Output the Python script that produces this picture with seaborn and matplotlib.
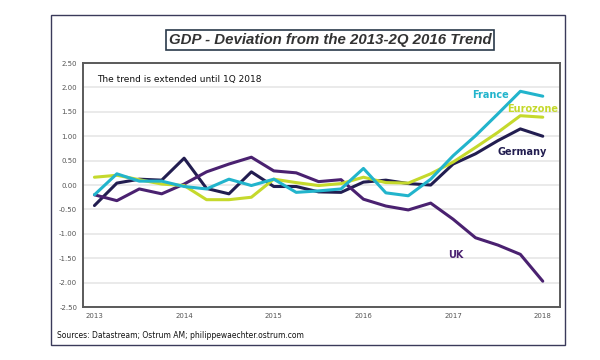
import matplotlib
matplotlib.use("Agg")
import matplotlib.pyplot as plt
import seaborn as sns
import pandas as pd
from matplotlib.patches import Rectangle

# quarterly observations, 1Q 2013 .. 1Q 2018
quarters = [f"{y}Q{q}" for y in range(2013, 2018) for q in range(1, 5)] + ["2018Q1"]

france = [-0.20, 0.23, 0.08, 0.08, -0.03, -0.08, 0.12, -0.01, 0.12, -0.15,
          -0.12, -0.08, 0.34, -0.16, -0.22, 0.12, 0.60, 1.01, 1.46, 1.92, 1.82]
eurozone = [0.16, 0.20, 0.11, 0.02, -0.01, -0.30, -0.30, -0.25, 0.12, 0.05,
            -0.01, 0.03, 0.16, 0.05, 0.04, 0.23, 0.47, 0.77, 1.08, 1.42, 1.39]
germany = [-0.42, 0.04, 0.12, 0.10, 0.55, -0.07, -0.18, 0.27, -0.03, -0.03,
           -0.14, -0.15, 0.06, 0.10, 0.03, 0.00, 0.43, 0.64, 0.91, 1.15, 1.00]
uk = [-0.20, -0.32, -0.08, -0.18, 0.02, 0.27, 0.43, 0.57, 0.29, 0.25,
      0.07, 0.11, -0.29, -0.43, -0.51, -0.37, -0.70, -1.08, -1.23, -1.42, -1.97]

year_ticks = [2013, 2014, 2015, 2016, 2017, 2018]
y_ticks = [2.5, 2.0, 1.5, 1.0, 0.5, 0.0, -0.5, -1.0, -1.5, -2.0, -2.5]

colors = {"France": "#22b4cc", "Eurozone": "#c5d92c",
          "Germany": "#221d50", "UK": "#4a2170"}

x = [int(q[:4]) + (int(q[-1]) - 1) / 4 for q in quarters]
df = pd.DataFrame({"x": x, "France": france, "Eurozone": eurozone,
                   "Germany": germany, "UK": uk})
long = df.melt(id_vars="x", var_name="country", value_name="dev")

sns.set_style("white")
fig = plt.figure(figsize=(6, 3.6), dpi=100)
ax = fig.add_axes([0.138, 0.147, 0.795, 0.678])

# outer frame of the whole graphic
fig.patches.append(Rectangle((0.085, 0.042), 0.857, 0.917, transform=fig.transFigure,
                             fill=False, edgecolor="#3a3a5a", linewidth=1.0))

for y in y_ticks:
    ax.axhline(y, color="#e6e6e6", linewidth=1.2, zorder=0)

sns.lineplot(data=long, x="x", y="dev", hue="country", hue_order=["Germany", "UK", "Eurozone", "France"],
             palette=colors, linewidth=2.2, legend=False, ax=ax)

ax.set_xlim(2012.87, 2018.19)
ax.set_ylim(-2.5, 2.5)
ax.set_xticks(year_ticks)
ax.set_xticklabels([str(y) for y in year_ticks])
ax.set_yticks(y_ticks)
ax.set_yticklabels([f"{y:.2f}" for y in y_ticks])
ax.tick_params(labelsize=5, colors="#555555", length=0, pad=4)
ax.set_xlabel("")
ax.set_ylabel("")
for s in ax.spines.values():
    s.set_color("#5a5a5a")
    s.set_linewidth(1.4)

ax.text(0.03, 0.95, "The trend is extended until 1Q 2018", transform=ax.transAxes,
        fontsize=6.5, va="top", color="#111111")

ax.text(2017.21, 1.85, "France", color=colors["France"], fontsize=7, fontweight="bold", va="center")
ax.text(2017.60, 1.56, "Eurozone", color=colors["Eurozone"], fontsize=7, fontweight="bold", va="center")
ax.text(2017.49, 0.68, "Germany", color=colors["Germany"], fontsize=7, fontweight="bold", va="center")
ax.text(2016.94, -1.44, "UK", color=colors["UK"], fontsize=7, fontweight="bold", va="center")

fig.text(0.55, 0.888, "GDP - Deviation from the 2013-2Q 2016 Trend", ha="center", va="center",
         fontsize=10.8, fontstyle="italic", fontweight="bold", color="#333333",
         family="Liberation Sans",
         bbox=dict(boxstyle="square,pad=0.2", facecolor="white", edgecolor="#2a3a4a", linewidth=1.2))

fig.text(0.095, 0.062, "Sources: Datastream; Ostrum AM; philippewaechter.ostrum.com",
         fontsize=5.5, color="#111111")

fig.savefig("out.png", dpi=100)
